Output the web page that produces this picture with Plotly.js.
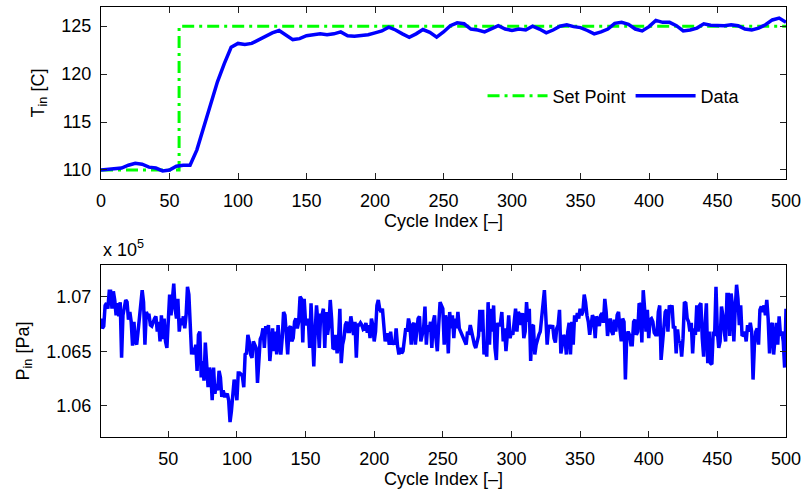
<!DOCTYPE html>
<html>
<head>
<meta charset="utf-8">
<script src="https://cdn.plot.ly/plotly-3.0.1.min.js"></script>
<style>html,body{margin:0;padding:0;background:#fff;}</style>
</head>
<body>
<div id="chart" style="width:804px;height:492px;"></div>
<script>
// Top panel: inlet temperature T_in [C] vs cycle index (sampled every 5 cycles)
const tCycle = [0,5,10,15,20,25,30,35,40,45,50,55,60,65,70,75,80,85,90,95,
  100,105,110,115,120,125,130,135,140,145,150,155,160,165,170,175,180,185,190,195,
  200,205,210,215,220,225,230,235,240,245,250,255,260,265,270,275,280,285,290,295,
  300,305,310,315,320,325,330,335,340,345,350,355,360,365,370,375,380,385,390,395,
  400,405,410,415,420,425,430,435,440,445,450,455,460,465,470,475,480,485,490,495,500];
const tIn = [110.0,110.07,110.1,110.2,110.5,110.7,110.6,110.3,110.2,109.9,
  110.0,110.4,110.5,110.5,112.1,114.5,117.1,119.2,121.1,122.8,
  123.2,123.1,123.2,123.6,123.9,124.3,124.55,124.1,123.6,123.7,
  124.0,124.1,124.2,124.1,124.2,124.4,124.0,123.95,124.0,124.1,
  124.3,124.5,124.9,124.6,124.2,123.85,124.2,124.65,124.35,123.85,
  124.4,125.05,125.35,125.25,124.7,124.6,124.4,124.7,125.05,124.7,
  124.55,124.7,124.6,125.0,124.7,124.3,124.6,125.0,125.15,124.95,
  124.85,124.55,124.2,124.4,124.7,125.3,125.4,125.2,124.7,124.5,
  124.95,125.6,125.4,125.4,125.05,124.5,124.6,124.8,125.25,125.1,
  125.05,125.05,125.15,125.05,124.7,124.6,124.8,125.15,125.65,125.85,125.4];

// Set point
const spCycle = [0,57,57,500];
const spValue = [110,110,125,125];

// Bottom panel: inlet pressure P_in in units of 1e5 Pa, cycles 1..500
const pInE5 = [
  1.0680,1.0671,1.0673,1.0692,1.0694,1.0689,1.0705,1.0705,1.0689,1.0705,
  1.0697,1.0683,1.0694,1.0682,1.0695,1.0644,1.0683,1.0689,1.0697,1.0695,
  1.0679,1.0686,1.0677,1.0655,1.0677,1.0659,1.0656,1.0668,1.0680,1.0694,
  1.0706,1.0695,1.0656,1.0686,1.0683,1.0683,1.0674,1.0673,1.0677,1.0680,
  1.0682,1.0668,1.0677,1.0659,1.0683,1.0661,1.0680,1.0659,1.0653,1.0680,
  1.0702,1.0683,1.0698,1.0712,1.0689,1.0680,1.0698,1.0668,1.0680,1.0674,
  1.0682,1.0671,1.0683,1.0709,1.0702,1.0668,1.0647,1.0653,1.0647,1.0656,
  1.0632,1.0665,1.0668,1.0626,1.0641,1.0623,1.0658,1.0638,1.0617,1.0635,
  1.0629,1.0605,1.0635,1.0611,1.0620,1.0614,1.0632,1.0626,1.0608,1.0614,
  1.0609,1.0609,1.0611,1.0605,1.0585,1.0595,1.0614,1.0624,1.0617,1.0605,
  1.0630,1.0630,1.0629,1.0627,1.0617,1.0647,1.0648,1.0665,1.0659,1.0647,
  1.0644,1.0659,1.0656,1.0653,1.0621,1.0638,1.0661,1.0664,1.0671,1.0653,
  1.0673,1.0668,1.0674,1.0641,1.0653,
  1.0671,1.0650,1.0668,1.0647,1.0674,1.0656,1.0647,1.0662,1.0686,1.0683,
  1.0668,1.0647,1.0671,1.0673,1.0659,1.0662,1.0677,1.0680,1.0671,1.0677,
  1.0700,1.0698,1.0658,1.0698,1.0677,1.0674,1.0680,1.0653,1.0694,1.0668,
  1.0636,1.0668,1.0692,1.0677,1.0653,1.0683,1.0683,1.0689,1.0653,1.0686,
  1.0665,1.0674,1.0697,1.0680,1.0652,1.0653,1.0665,1.0648,1.0659,1.0689,
  1.0639,1.0656,1.0662,1.0674,1.0677,1.0668,1.0668,1.0682,1.0671,
  1.0665,1.0677,1.0644,1.0674,1.0674,1.0676,1.0674,1.0670,1.0671,
  1.0676,1.0667,1.0674,1.0662,1.0680,1.0674,1.0659,1.0668,1.0692,1.0697,
  1.0689,1.0686,1.0689,1.0674,1.0659,1.0665,1.0665,1.0656,1.0668,1.0656,
  1.0659,1.0656,1.0671,1.0655,1.0647,1.0653,1.0648,1.0650,1.0659,
  1.0671,1.0668,1.0680,1.0674,1.0656,1.0674,1.0676,1.0656,1.0668,1.0680,
  1.0682,1.0659,1.0665,1.0671,1.0691,1.0656,1.0674,1.0668,1.0677,1.0653,
  1.0677,1.0683,1.0662,1.0650,1.0674,1.0695,1.0692,1.0689,
  1.0656,1.0683,1.0677,1.0648,1.0686,1.0671,1.0683,1.0662,1.0680,1.0671,
  1.0686,1.0671,1.0668,1.0664,1.0662,1.0659,1.0656,1.0668,1.0665,1.0674,
  1.0668,1.0659,1.0656,1.0653,1.0659,1.0664,1.0688,1.0668,1.0688,1.0647,
  1.0656,1.0645,1.0695,1.0656,1.0689,1.0668,1.0692,1.0653,1.0642,1.0676,
  1.0673,1.0676,1.0686,1.0659,1.0671,1.0650,1.0665,1.0683,1.0662,
  1.0668,1.0665,1.0680,1.0689,1.0668,1.0686,1.0683,1.0674,1.0685,1.0662,
  1.0668,1.0695,1.0677,1.0689,1.0641,1.0673,1.0674,1.0647,1.0656,1.0662,
  1.0665,1.0668,1.0683,1.0698,1.0706,1.0683,1.0656,1.0671,1.0674,1.0671,
  1.0674,1.0662,1.0658,1.0671,1.0674,1.0688,1.0648,1.0656,1.0665,
  1.0662,1.0647,1.0668,1.0676,1.0647,1.0677,1.0656,1.0683,1.0677,1.0685,
  1.0680,1.0689,1.0683,1.0686,1.0702,1.0695,1.0683,1.0677,1.0665,1.0674,
  1.0683,1.0680,1.0662,1.0682,1.0676,1.0673,1.0683,1.0685,1.0676,
  1.0698,1.0686,1.0664,1.0674,1.0680,1.0668,1.0665,1.0679,
  1.0668,1.0683,1.0686,1.0670,1.0659,1.0680,1.0677,1.0624,1.0664,1.0668,
  1.0665,1.0656,1.0656,1.0677,1.0679,1.0665,1.0668,1.0694,1.0692,1.0658,
  1.0706,1.0689,1.0668,1.0688,1.0662,1.0679,1.0680,1.0677,1.0667,1.0665,
  1.0665,1.0686,1.0692,1.0642,1.0659,1.0668,1.0686,1.0688,1.0668,
  1.0692,1.0689,1.0692,1.0671,1.0673,1.0648,1.0670,1.0658,1.0659,1.0645,
  1.0662,1.0695,1.0694,1.0680,1.0677,1.0668,1.0676,1.0648,1.0671,1.0665,
  1.0692,1.0668,1.0692,1.0694,1.0662,1.0645,1.0674,1.0694,1.0639,1.0668,
  1.0639,1.0638,1.0668,1.0664,1.0709,1.0668,1.0653,1.0659,1.0691,1.0683,
  1.0668,1.0659,1.0702,1.0702,1.0664,1.0703,1.0692,1.0659,1.0689,1.0711,
  1.0698,1.0674,1.0692,1.0664,1.0665,1.0668,1.0659,1.0674,1.0668,
  1.0676,1.0668,1.0624,1.0656,1.0668,1.0671,1.0656,1.0688,1.0691,1.0686,
  1.0692,1.0683,1.0697,1.0680,1.0648,1.0673,1.0676,1.0647,1.0667,1.0676,
  1.0656,1.0682,1.0664,1.0668,1.0659,1.0635,1.0689
];
const pCycle = pInE5.map((_, i) => i + 1);

// Axis ticks
const topXTicks = [0,50,100,150,200,250,300,350,400,450,500];
const topYTicks = [110,115,120,125];
const botXTicks = [50,100,150,200,250,300,350,400,450,500];
const botYTicks = [1.06,1.065,1.07];
const botYTickText = ['1.06','1.065','1.07'];

const FONT = 'Liberation Sans, Arial, Helvetica, sans-serif';
const FS = 18;

const traces = [
  {x: spCycle, y: spValue, type:'scatter', mode:'lines', name:'Set Point',
   line:{color:'#00ff00', width:3, dash:'12px,5px,3px,5px'}, xaxis:'x', yaxis:'y'},
  {x: tCycle, y: tIn, type:'scatter', mode:'lines', name:'Data',
   line:{color:'#0000ff', width:3.5}, xaxis:'x', yaxis:'y'},
  {x: pCycle, y: pInE5, type:'scatter', mode:'lines', name:'P',
   line:{color:'#0000ff', width:3.5}, xaxis:'x2', yaxis:'y2', showlegend:false}
];

const axBase = {
  showline:true, linecolor:'#000', linewidth:1, mirror:'ticks',
  ticks:'inside', ticklen:6, tickwidth:1, tickcolor:'#222',
  showgrid:false, zeroline:false,
  tickfont:{family:FONT, size:FS, color:'#000'}
};

const layout = {
  width:804, height:492,
  margin:{l:101, r:18, t:7, b:55},
  paper_bgcolor:'#fff', plot_bgcolor:'#fff',
  font:{family:FONT, size:FS, color:'#000'},
  showlegend:true,
  legend:{orientation:'h', x:0.557, y:0.793, xanchor:'left', yanchor:'middle', itemwidth:60,
          bgcolor:'rgba(255,255,255,0)', font:{family:FONT, size:FS, color:'#000'},
          traceorder:'normal'},
  xaxis: Object.assign({}, axBase, {domain:[0,1], anchor:'y', range:[0,500], tickvals:topXTicks,
          ticklabelstandoff:5,
          title:{text:'Cycle Index [–]', font:{family:FONT, size:FS}, standoff:3}}),
  yaxis: Object.assign({}, axBase, {domain:[0.6,1], anchor:'x', range:[109.06,127.0], tickvals:topYTicks,
          ticklabelstandoff:5,
          title:{text:'T<sub>in</sub> [C]', font:{family:FONT, size:FS}, standoff:12}}),
  xaxis2: Object.assign({}, axBase, {domain:[0,1], anchor:'y2', range:[1,500], tickvals:botXTicks,
          ticklabelstandoff:5,
          title:{text:'Cycle Index [–]', font:{family:FONT, size:FS}, standoff:3}}),
  yaxis2: Object.assign({}, axBase, {domain:[0,0.4], anchor:'x2', range:[1.05713,1.07291],
          tickvals:botYTicks, ticktext:botYTickText, ticklabelstandoff:5,
          title:{text:'P<sub>in</sub> [Pa]', font:{family:FONT, size:FS}, standoff:12}}),
  annotations:[
    {xref:'paper', yref:'paper', x:0, y:0.4, xanchor:'left', yanchor:'bottom', yshift:3,
     showarrow:false, text:'x 10<sup>5</sup>', font:{family:FONT, size:FS, color:'#000'}}
  ]
};

Plotly.newPlot('chart', traces, layout, {displayModeBar:false, staticPlot:true});
</script>
</body>
</html>
